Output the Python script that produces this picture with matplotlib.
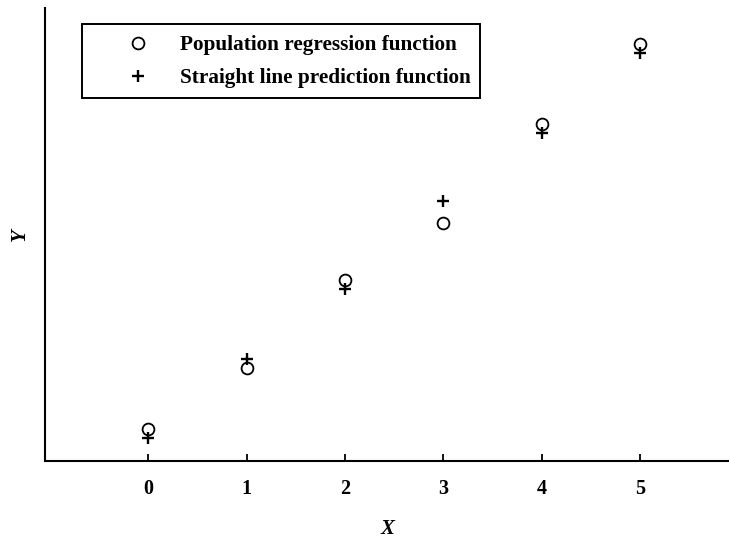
import matplotlib
matplotlib.use("Agg")
import matplotlib.pyplot as plt
from matplotlib.patches import Rectangle

x_vals = [0, 1, 2, 3, 4, 5]
population_regression = [0.7, 2.05, 4.0, 5.25, 7.45, 9.2]
straight_line_prediction = [0.5, 2.25, 3.8, 5.75, 7.25, 9.0]
x_tick_labels = ["0", "1", "2", "3", "4", "5"]
series_labels = ["Population regression function", "Straight line prediction function"]

plt.rcParams["font.family"] = ["Liberation Serif", "DejaVu Serif"]

W, H = 729, 542
fig = plt.figure(figsize=(W / 100, H / 100), dpi=100)
ax = fig.add_axes([45 / W, (H - 461) / H, (W - 45) / W, (461 - 8) / H])

ax.plot(x_vals, population_regression, linestyle="none", marker="o", markersize=8.5,
        markerfacecolor="none", markeredgecolor="black", markeredgewidth=1.3,
        label=series_labels[0])
ax.plot(x_vals, straight_line_prediction, linestyle="none", marker="+", markersize=9,
        color="black", markeredgewidth=1.7, label=series_labels[1])

ax.set_xlim(-1.047, 5.9)
ax.set_ylim(0, 10)

for side in ("top", "right"):
    ax.spines[side].set_visible(False)
for side in ("left", "bottom"):
    ax.spines[side].set_linewidth(1.5)
    ax.spines[side].set_color("black")

ax.set_xticks(x_vals)
ax.set_xticklabels(x_tick_labels, fontsize=14.5, fontweight="bold")
ax.tick_params(axis="x", direction="in", length=5, width=1.3, pad=13)
ax.set_yticks([])

ax.set_xlabel("X", fontsize=15, fontweight="bold", fontstyle="italic", labelpad=14)
ax.set_ylabel("Y", fontsize=15, fontweight="bold", fontstyle="italic", labelpad=11)

# legend entries without a frame; the box is drawn separately
fs = 15.3
leg = ax.legend(loc="upper left", bbox_to_anchor=(117 / W, 1 - 35 / H),
                bbox_transform=fig.transFigure, borderaxespad=0, borderpad=0,
                prop={"size": fs, "weight": "bold"}, frameon=False,
                handlelength=2.0, handletextpad=0.95, labelspacing=0.62)

box = Rectangle((82 / W, 1 - 98 / H), (480 - 82) / W, (98 - 24) / H,
                transform=fig.transFigure, fill=False, edgecolor="black",
                linewidth=1.4, clip_on=False)
fig.add_artist(box)

fig.savefig("out.png", dpi=100)
